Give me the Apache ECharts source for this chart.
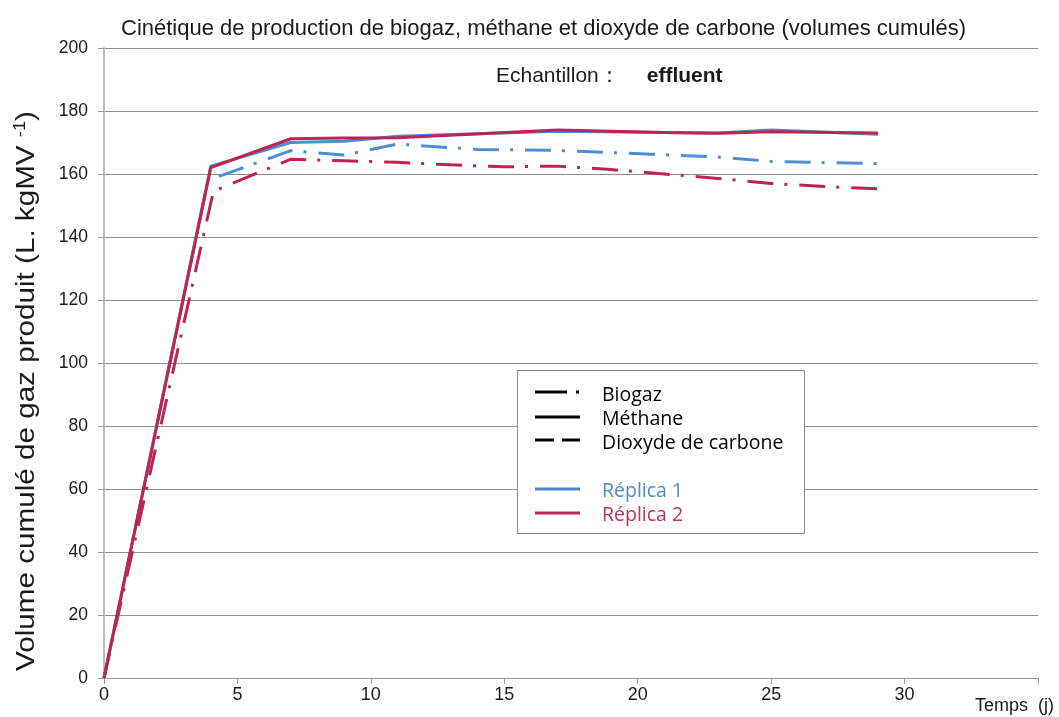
<!DOCTYPE html>
<html><head><meta charset="utf-8">
<script src="https://cdn.jsdelivr.net/npm/echarts@6/dist/echarts.min.js"></script>
<style>html,body{margin:0;padding:0;background:#fff}#c{width:1059px;height:717px}</style>
</head><body><div id="c"></div>
<script>
// Data
const r1MethaneX = [0, 4, 7, 9, 11, 17, 21, 23, 25, 29];
const r1MethaneY = [0, 162.5, 170, 170.4, 172, 173.6, 173.2, 173, 174, 172.6];
const r2MethaneX = [0, 4, 7, 9, 11, 17, 21, 23, 25, 29];
const r2MethaneY = [0, 162, 171.2, 171.4, 171.5, 174, 173.2, 172.9, 173.4, 173];
const r1BiogazX = [0, 3.9, 7, 9, 11, 14, 17, 20.5, 23, 25, 27, 29];
const r1BiogazY = [0, 158, 167.4, 166, 169.5, 167.8, 167.5, 166.3, 165.4, 164, 163.6, 163.3];
const r2BiogazX = [0, 4.1, 7, 9, 11, 13, 15, 17, 19, 21, 23, 25, 27, 29];
const r2BiogazY = [0, 154.5, 164.7, 164.2, 163.7, 162.9, 162.3, 162.5, 161.4, 160, 158.6, 157, 156, 155.3];
const xTicks = [0, 5, 10, 15, 20, 25, 30];
const seriesNames = ['Réplica 1 Méthane', 'Réplica 2 Méthane', 'Réplica 1 Biogaz', 'Réplica 2 Biogaz'];

const BLUE = '#4a8fd3', RED = '#c0234f';
const pair = (xs, ys) => xs.map((x, i) => [x, ys[i]]);
const dashDot = [26, 11, 3, 12];

const chart = echarts.init(document.getElementById('c'), null, {renderer: 'canvas'});
const txt = '#1a1a1a';
chart.setOption({
  animation: false,
  title: {
    text: 'Cinétique de production de biogaz, méthane et dioxyde de carbone (volumes cumulés)',
    left: 116, top: 13,
    textStyle: {fontFamily: 'Liberation Sans', fontSize: 22, fontWeight: 'normal', color: txt}
  },
  grid: {left: 104, right: 21, top: 48, bottom: 39, containLabel: false},
  xAxis: {
    type: 'value', min: 0, max: 35, interval: 5,
    axisLine: {show: true, lineStyle: {color: '#9a9a9a', width: 1}},
    axisTick: {show: true, length: 6, inside: false, lineStyle: {color: '#9a9a9a'}},
    splitLine: {show: false},
    axisLabel: {
      fontFamily: 'Liberation Sans', fontSize: 18, color: txt, margin: 8,
      formatter: v => xTicks.includes(v) ? String(v) : ''
    }
  },
  yAxis: {
    type: 'value', min: 0, max: 200, interval: 20,
    axisLine: {show: true, lineStyle: {color: '#bcbcbc', width: 2}},
    axisTick: {show: true, length: 6, lineStyle: {color: '#9a9a9a'}},
    splitLine: {show: true, lineStyle: {color: '#8e8e8e', width: 1}},
    axisLabel: {fontFamily: 'Liberation Sans', fontSize: 17.5, color: txt, margin: 16}
  },
  series: [
    {name: seriesNames[0], type: 'line', data: pair(r1MethaneX, r1MethaneY), showSymbol: false, lineStyle: {color: BLUE, width: 3}, z: 3},
    {name: seriesNames[1], type: 'line', data: pair(r2MethaneX, r2MethaneY), showSymbol: false, lineStyle: {color: RED, width: 3}, z: 4},
    {name: seriesNames[2], type: 'line', data: pair(r1BiogazX, r1BiogazY), showSymbol: false, lineStyle: {color: BLUE, width: 3, type: dashDot}, z: 2},
    {name: seriesNames[3], type: 'line', data: pair(r2BiogazX, r2BiogazY), showSymbol: false, lineStyle: {color: RED, width: 3, type: dashDot}, z: 2}
  ],
  graphic: [
    {type: 'text', x: 496, y: 76, style: {
      text: 'Echantillon：{b|effluent}', fill: txt,
      font: '21px "Liberation Sans"', verticalAlign: 'middle',
      rich: {b: {fontFamily: 'Liberation Sans', fontSize: 21, fontWeight: 'bold', fill: txt, padding: [0, 0, 0, 27]}}
    }},
    {type: 'text', x: 27, y: 391, rotation: Math.PI / 2, scaleX: 1.14, style: {
      text: 'Volume cumulé de gaz produit (L. kgMV {s|-1})', fill: txt,
      font: '26px "Liberation Sans"', align: 'center', verticalAlign: 'middle',
      rich: {s: {fontFamily: 'Liberation Sans', fontSize: 16, verticalAlign: 'top', padding: [0, 0, 12, 0]}}
    }},
    {type: 'text', x: 975, y: 706, style: {
      text: 'Temps  (j)', fill: txt, font: '18px "Liberation Sans"', verticalAlign: 'middle'
    }},
    // legend
    {type: 'rect', shape: {x: 517.5, y: 370.5, width: 287, height: 163}, style: {fill: '#fff', stroke: '#8a8a8a', lineWidth: 1}, z: 10},
    {type: 'line', shape: {x1: 535, y1: 392, x2: 567, y2: 392}, style: {stroke: '#000', lineWidth: 3}, z: 11},
    {type: 'line', shape: {x1: 576, y1: 392, x2: 579, y2: 392}, style: {stroke: '#000', lineWidth: 3}, z: 11},
    {type: 'line', shape: {x1: 535, y1: 417, x2: 580, y2: 417}, style: {stroke: '#000', lineWidth: 3}, z: 11},
    {type: 'line', shape: {x1: 535, y1: 440, x2: 554, y2: 440}, style: {stroke: '#000', lineWidth: 3}, z: 11},
    {type: 'line', shape: {x1: 562, y1: 440, x2: 580, y2: 440}, style: {stroke: '#000', lineWidth: 3}, z: 11},
    {type: 'line', shape: {x1: 535, y1: 489, x2: 580, y2: 489}, style: {stroke: '#4a86c8', lineWidth: 3}, z: 11},
    {type: 'line', shape: {x1: 535, y1: 513, x2: 580, y2: 513}, style: {stroke: '#be2a55', lineWidth: 3}, z: 11},
    {type: 'text', x: 602, y: 395, style: {text: 'Biogaz', fill: '#000', font: '19.5px "Open Sans"', verticalAlign: 'middle'}, z: 11},
    {type: 'text', x: 602, y: 419, style: {text: 'Méthane', fill: '#000', font: '19.5px "Open Sans"', verticalAlign: 'middle'}, z: 11},
    {type: 'text', x: 602, y: 443, style: {text: 'Dioxyde de carbone', fill: '#000', font: '19.5px "Open Sans"', verticalAlign: 'middle'}, z: 11},
    {type: 'text', x: 602, y: 491, style: {text: 'Réplica 1', fill: '#4f8ac9', font: '19.5px "Open Sans"', verticalAlign: 'middle'}, z: 11},
    {type: 'text', x: 602, y: 515, style: {text: 'Réplica 2', fill: '#b8325f', font: '19.5px "Open Sans"', verticalAlign: 'middle'}, z: 11}
  ]
});
</script></body></html>
